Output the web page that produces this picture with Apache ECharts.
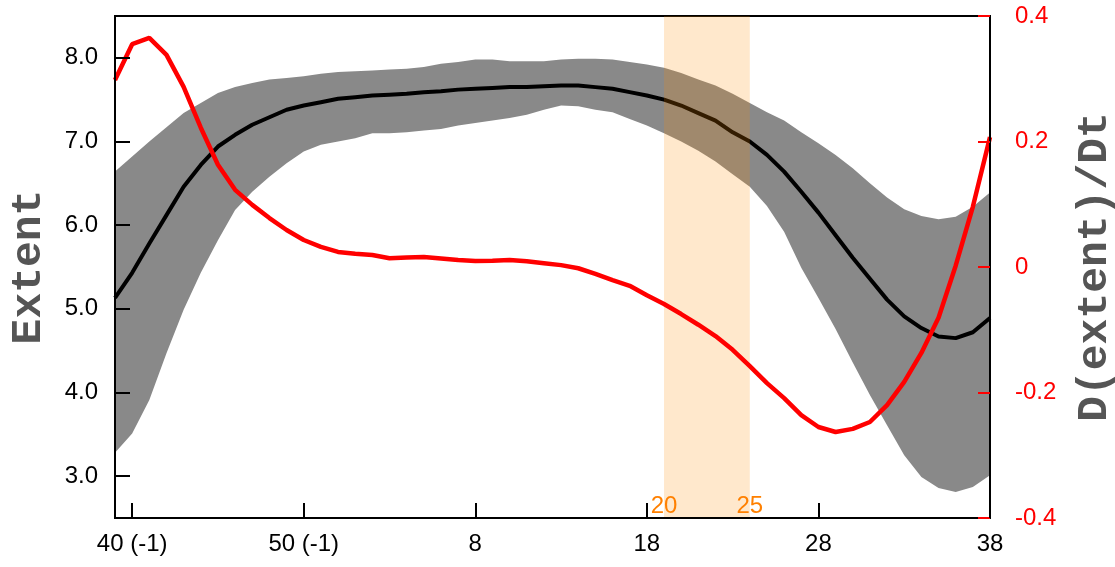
<!DOCTYPE html>
<html><head><meta charset="utf-8">
<script src="https://cdn.jsdelivr.net/npm/echarts@6/dist/echarts.min.js"></script>
<style>html,body{margin:0;padding:0;background:#fff}#c{width:1115px;height:567px}</style>
</head><body><div id="c"></div>
<script>
// week index (52 weeks per year; 39..90 == week 39 of previous year .. week 38)
const weeks = [39,40,41,42,43,44,45,46,47,48,49,50,51,52,53,54,55,56,57,58,59,60,61,62,63,64,65,66,67,68,69,70,71,72,73,74,75,76,77,78,79,80,81,82,83,84,85,86,87,88,89,90];
const extentMean = [5.13,5.43,5.78,6.12,6.46,6.72,6.94,7.08,7.20,7.29,7.38,7.43,7.47,7.51,7.53,7.55,7.56,7.57,7.59,7.60,7.62,7.63,7.64,7.65,7.65,7.66,7.67,7.67,7.65,7.63,7.59,7.55,7.50,7.43,7.34,7.25,7.11,7.00,6.84,6.64,6.40,6.15,5.88,5.61,5.36,5.11,4.91,4.77,4.67,4.65,4.72,4.89];
const extentUpper = [6.64,6.82,7.00,7.17,7.34,7.46,7.58,7.65,7.70,7.74,7.76,7.78,7.81,7.83,7.84,7.85,7.86,7.87,7.89,7.93,7.95,7.98,7.98,7.96,7.96,7.96,7.98,7.99,7.99,7.98,7.95,7.92,7.88,7.82,7.74,7.67,7.57,7.46,7.35,7.25,7.11,6.98,6.84,6.68,6.50,6.33,6.19,6.11,6.07,6.10,6.22,6.39];
const extentLower = [3.28,3.51,3.91,4.47,4.99,5.43,5.82,6.18,6.40,6.58,6.74,6.88,6.96,7.00,7.04,7.10,7.10,7.11,7.13,7.15,7.19,7.22,7.25,7.28,7.32,7.38,7.43,7.42,7.38,7.35,7.27,7.19,7.10,7.00,6.89,6.76,6.61,6.46,6.23,5.92,5.49,5.13,4.76,4.36,3.97,3.61,3.25,2.99,2.86,2.81,2.87,3.01];
const dExtentDt = [0.298,0.355,0.365,0.338,0.287,0.222,0.163,0.123,0.099,0.078,0.059,0.043,0.032,0.024,0.021,0.019,0.014,0.015,0.016,0.0135,0.011,0.0096,0.010,0.011,0.009,0.006,0.003,-0.002,-0.011,-0.021,-0.030,-0.045,-0.059,-0.075,-0.092,-0.110,-0.132,-0.158,-0.185,-0.209,-0.236,-0.255,-0.263,-0.258,-0.247,-0.220,-0.183,-0.137,-0.081,0.002,0.096,0.207];
const tickWeeks = [40,50,60,70,80,90];
const tickLabels = ['40 (-1)','50 (-1)','8','18','28','38'];
const shadeWeeks = [71,76];
const shadeLabels = ['20','25'];

const chart = echarts.init(document.getElementById('c'), null, {renderer:'canvas'});
const F = "'Liberation Sans', Arial, sans-serif";
const nameFont = {fontFamily:"'Liberation Mono', 'DejaVu Sans Mono', monospace", fontWeight:'bold', fontSize:43, color:'#555555'};
const cats = weeks.map(String);
const isTick = function(i, v){ return tickWeeks.indexOf(+v) >= 0; };

chart.setOption({
  animation:false,
  backgroundColor:'#ffffff',
  grid:{left:115, right:125, top:16, bottom:49, containLabel:false, outerBoundsMode:'none',
        show:true, borderColor:'#000', borderWidth:2, backgroundColor:'transparent'},
  xAxis:{
    type:'category', data:cats, boundaryGap:false, z:10,
    axisLine:{show:true, onZero:false, lineStyle:{color:'#000', width:2}},
    axisTick:{show:true, inside:true, length:15, interval:isTick, lineStyle:{color:'#000', width:2}},
    splitLine:{show:false},
    axisLabel:{show:true, interval:isTick, margin:14, color:'#000', fontSize:24, fontFamily:F,
      formatter:function(v){const i=tickWeeks.indexOf(+v); return i>=0?tickLabels[i]:'';}}
  },
  yAxis:[{
    type:'value', min:2.5, max:8.5, splitNumber:6, position:'left', z:10,
    name:'Extent', nameLocation:'middle', nameGap:64, nameRotate:90, nameTextStyle:nameFont,
    axisLine:{show:true, lineStyle:{color:'#000', width:2}},
    axisTick:{show:true, inside:true, length:15, lineStyle:{color:'#000', width:2}},
    splitLine:{show:false},
    axisLabel:{showMinLabel:false, showMaxLabel:false, margin:17, color:'#000', fontSize:24, fontFamily:F,
      formatter:function(v){return v.toFixed(1);}}
  },{
    type:'value', min:-0.4, max:0.4, interval:0.2, position:'right', z:10,
    name:'D(extent)/Dt', nameLocation:'middle', nameGap:84, nameRotate:90, nameTextStyle:nameFont,
    axisLine:{show:true, lineStyle:{color:'#000', width:2}},
    axisTick:{show:true, inside:true, length:12, lineStyle:{color:'#ff0000', width:2}},
    splitLine:{show:false},
    axisLabel:{margin:25, color:'#ff0000', fontSize:24, fontFamily:F,
      formatter:function(v){return Math.abs(v)<1e-9?'0':v.toFixed(1);}}
  }],
  series:[
    {type:'line', name:'lower', stack:'band', yAxisIndex:0, z:1, silent:true, symbol:'none',
     lineStyle:{opacity:0, width:0}, data:extentLower},
    {type:'line', name:'band', stack:'band', yAxisIndex:0, z:1, silent:true, symbol:'none',
     lineStyle:{opacity:0, width:0}, areaStyle:{color:'#898989', opacity:1},
     data:extentUpper.map((u,i)=>+(u-extentLower[i]).toFixed(3))},
    {type:'line', name:'mean', yAxisIndex:0, z:2, symbol:'none',
     lineStyle:{color:'#000', width:4}, data:extentMean},
    {type:'scatter', name:'shadeArea', yAxisIndex:0, z:3, symbolSize:0, silent:true, data:[],
     markArea:{silent:true, z:3, itemStyle:{color:'rgba(255,140,0,0.2)'},
       data:[[{xAxis:String(shadeWeeks[0])},{xAxis:String(shadeWeeks[1])}]]}},
    {type:'scatter', name:'shadeLabels', yAxisIndex:0, z:8, symbolSize:0, silent:true,
     itemStyle:{opacity:1},
     data:shadeWeeks.map((w,i)=>[String(w), 2.5, shadeLabels[i]]),
     label:{show:true, position:'top', distance:0, color:'#ff8000', opacity:1, fontSize:24, fontFamily:F,
       formatter:function(p){return p.value[2];}}},
    {type:'line', name:'deriv', yAxisIndex:1, z:5, symbol:'none',
     lineStyle:{color:'#ff0000', width:4.5}, data:dExtentDt}
  ]
});
</script></body></html>
